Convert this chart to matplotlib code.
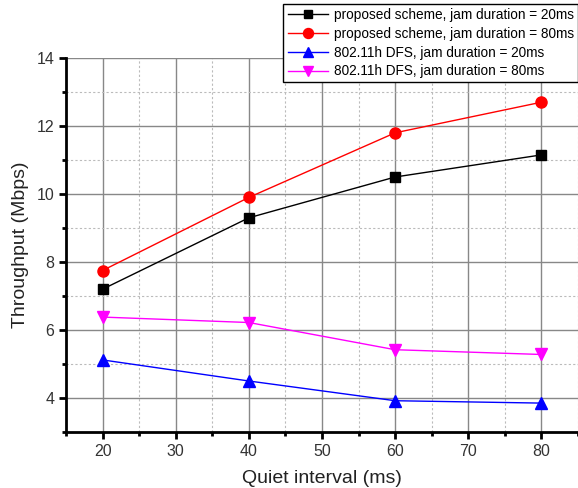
import matplotlib
matplotlib.use("Agg")
import matplotlib.pyplot as plt
from matplotlib.ticker import MultipleLocator

# Quiet interval values and throughput (Mbps) for each scheme
quiet = [20, 40, 60, 80]
prop_20 = [7.2, 9.3, 10.5, 11.15]
prop_80 = [7.75, 9.9, 11.8, 12.7]
dfs_20 = [5.12, 4.5, 3.92, 3.85]
dfs_80 = [6.38, 6.22, 5.42, 5.28]

labels = [
    "proposed scheme, jam duration = 20ms",
    "proposed scheme, jam duration = 80ms",
    "802.11h DFS, jam duration = 20ms",
    "802.11h DFS, jam duration = 80ms",
]

plt.rcParams['font.family'] = ['Liberation Sans', 'DejaVu Sans']

fig = plt.figure(figsize=(5.78, 4.88), dpi=100)
ax = fig.add_axes([66 / 578, 1 - 432 / 488, 1 - 66 / 578, (432 - 58) / 488])

ax.plot(quiet, prop_20, color="black", marker="s", markersize=7, lw=1, label=labels[0])
ax.plot(quiet, prop_80, color="red", marker="o", markersize=8, lw=1, label=labels[1])
ax.plot(quiet, dfs_20, color="blue", marker="^", markersize=8, lw=1, label=labels[2])
ax.plot(quiet, dfs_80, color="magenta", marker="v", markersize=8, lw=1, label=labels[3])

ax.set_xlim(15, 85)
ax.set_ylim(3, 14)
ax.xaxis.set_major_locator(MultipleLocator(10))
ax.xaxis.set_minor_locator(MultipleLocator(5))
ax.yaxis.set_major_locator(MultipleLocator(2))
ax.yaxis.set_minor_locator(MultipleLocator(1))

ax.grid(True, which="major", color="#888888", lw=1, ls="-")
ax.grid(True, which="minor", color="#bbbbbb", lw=0.8, ls=(0, (2, 2)))
ax.set_axisbelow(True)
# no grid line along the top edge at 14
ax.get_ygridlines()[-1].set_visible(False)

ax.spines["top"].set_visible(False)
ax.spines["right"].set_visible(False)
ax.spines["left"].set_linewidth(2)
ax.spines["bottom"].set_linewidth(2)
ax.tick_params(which="major", direction="out", length=5, width=2, labelsize=11.5, colors="black")
ax.tick_params(which="minor", direction="out", length=3, width=2)
for t in ax.get_xticklabels() + ax.get_yticklabels():
    t.set_color("#333333")

ax.set_xlabel("Quiet interval (ms)", fontsize=14, color="#222222", labelpad=8)
ax.set_ylabel("Throughput (Mbps)", fontsize=14, color="#222222", labelpad=5)

leg = fig.legend(loc="upper right", bbox_to_anchor=(1.0, 0.992), fontsize=9.8,
                 frameon=True, fancybox=False, edgecolor="black", framealpha=1,
                 handlelength=3, borderpad=0.3, labelspacing=0.35, handletextpad=0.4,
                 borderaxespad=0, markerscale=0.9)
leg.get_frame().set_linewidth(1)

fig.savefig("out.png", dpi=100)
